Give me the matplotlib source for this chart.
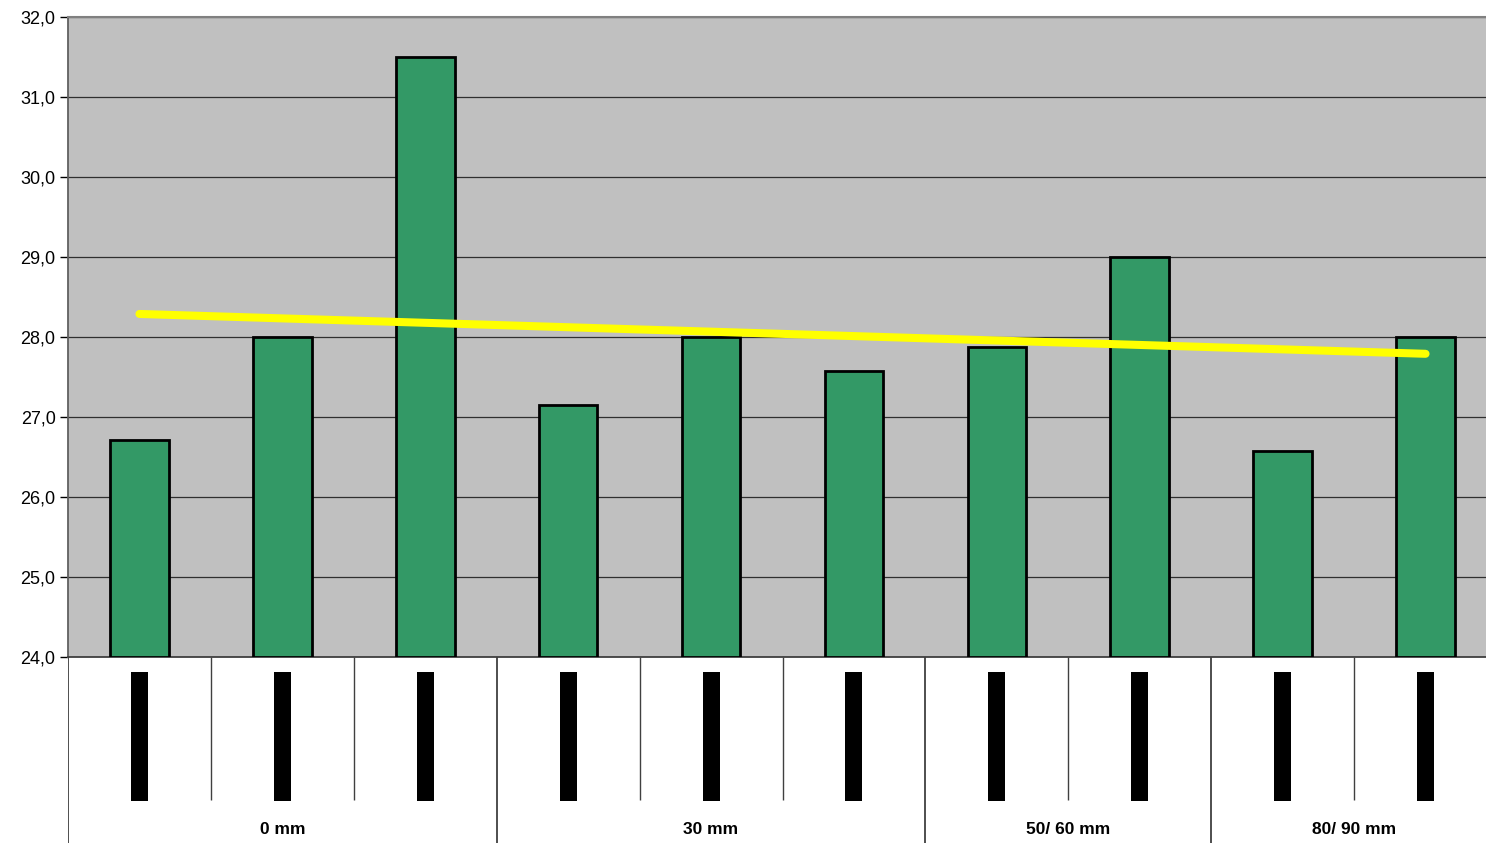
import matplotlib.pyplot as plt
import numpy as np

# values
values = [26.71, 28.0, 31.5, 27.15, 28.0, 27.58, 27.88, 29.0, 26.57, 28.0]
groups = ["0 mm", "30 mm", "50/ 60 mm", "80/ 90 mm"]
group_sizes = [3, 3, 2, 2]
yticks = [24, 25, 26, 27, 28, 29, 30, 31, 32]

plt.rcParams['font.family'] = ['Liberation Sans', 'DejaVu Sans']

W, H = 1486, 843
fig = plt.figure(figsize=(W / 100, H / 100), dpi=100)

# plot area in pixels (right side runs a bit past the image edge)
left, right, top, bottom = 68, 1497, 17, 657
ax = fig.add_axes([left / W, 1 - bottom / H, (right - left) / W, (bottom - top) / H])
ax.set_facecolor('#C0C0C0')

x = np.arange(len(values))
ax.bar(x, np.array(values) - 24, bottom=24, width=0.41, color='#339966',
       edgecolor='black', linewidth=2, zorder=3)

# linear trendline like the spreadsheet one
coef = np.polyfit(x, values, 1)
ax.plot(x, np.polyval(coef, x), color='#FFFF00', lw=5.8,
        solid_capstyle='round', zorder=4)

ax.set_xlim(-0.5, len(values) - 0.5)
ax.set_ylim(24, 32)
ax.set_yticks(yticks)
ax.set_yticklabels([f"{v:.1f}".replace('.', ',') for v in yticks], fontsize=13)
ax.tick_params(axis='y', direction='out', length=6, width=1, pad=3, colors='black')
ax.set_xticks([])
ax.yaxis.grid(True, color='black', linewidth=0.9, alpha=0.75, zorder=1)
ax.set_axisbelow(True)

ax.spines['right'].set_visible(False)
ax.spines['top'].set_color('#808080')
ax.spines['top'].set_linewidth(1.5)
ax.spines['left'].set_color('#606060')
ax.spines['left'].set_linewidth(1.3)
ax.spines['bottom'].set_color('#404040')
ax.spines['bottom'].set_linewidth(1.3)

# category area under the plot
cat_h = H - bottom
ax2 = fig.add_axes([left / W, 0, (right - left) / W, cat_h / H])
ax2.set_xlim(-0.5, len(values) - 0.5)
ax2.set_ylim(cat_h, 0)
ax2.axis('off')

# black label blocks
ax2.bar(x, 129, bottom=15, width=17 / 142.9, color='black', zorder=2)

# separators
bounds = np.cumsum([0] + group_sizes) - 0.5
for k in range(len(values) + 1):
    xx = k - 0.5
    if xx in bounds:
        if xx < len(values) - 0.5:
            ax2.vlines(xx, 0, cat_h, color='#404040', lw=1.3)
    else:
        ax2.vlines(xx, 0, 143, color='#404040', lw=1.0)

for g, lo, hi in zip(groups, bounds[:-1], bounds[1:]):
    ax2.text((lo + hi) / 2, 173, g, ha='center', va='center',
             fontsize=12.5, fontweight='bold')

fig.savefig('out.png', dpi=100)
